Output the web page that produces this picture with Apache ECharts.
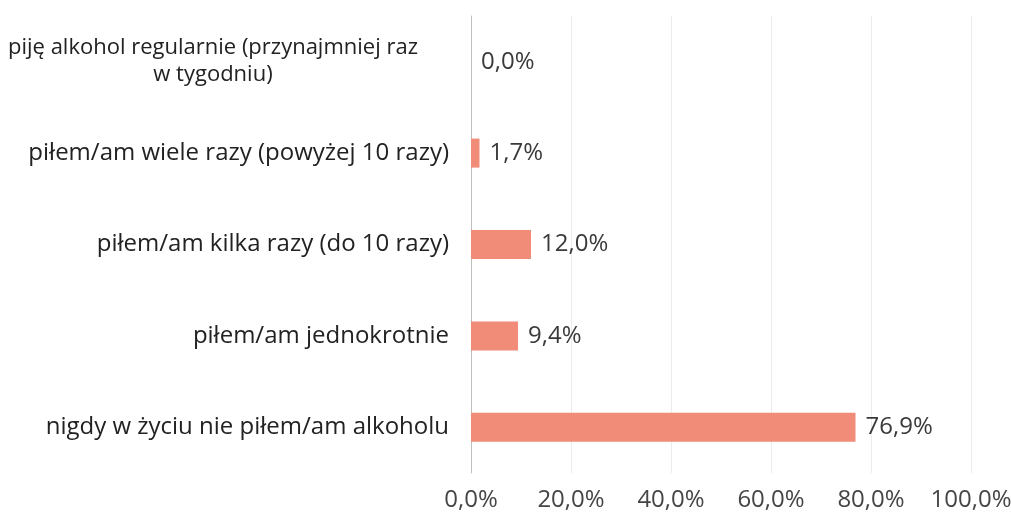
<!DOCTYPE html>
<html>
<head>
<meta charset="utf-8">
<script src="https://cdn.jsdelivr.net/npm/echarts@6/dist/echarts.min.js"></script>
<style>
  html, body { margin: 0; padding: 0; background: #fff; }
  #chart { width: 1011px; height: 520px; }
</style>
</head>
<body>
<div id="chart"></div>
<script>
// categories bottom -> top
const categories = [
  'nigdy w życiu nie piłem/am alkoholu',
  'piłem/am jednokrotnie',
  'piłem/am kilka razy (do 10 razy)',
  'piłem/am wiele razy (powyżej 10 razy)',
  'piję alkohol regularnie (przynajmniej raz\nw tygodniu)'
];
const values = [76.9, 9.4, 12.0, 1.7, 0.0];
const xTicks = [0, 20, 40, 60, 80, 100];

const fmt = v => v.toFixed(1).replace('.', ',') + '%';

const chart = echarts.init(document.getElementById('chart'));

chart.setOption({
  animation: false,
  textStyle: { fontFamily: '"Open Sans", Lato, sans-serif' },
  grid: { left: 471, right: 40, top: 16, bottom: 47, outerBoundsMode: 'none', containLabel: false },
  xAxis: {
    type: 'value',
    min: xTicks[0],
    max: xTicks[xTicks.length - 1],
    interval: 20,
    axisLine: { show: false },
    axisTick: { show: false },
    splitLine: { lineStyle: { color: '#ececec', width: 1 } },
    axisLabel: {
      margin: 15,
      fontSize: 24,
      color: '#454545',
      formatter: v => fmt(v)
    }
  },
  yAxis: {
    type: 'category',
    data: categories,
    axisLine: { lineStyle: { color: '#c0c0c0' } },
    axisTick: { show: false },
    axisLabel: {
      margin: 22,
      fontSize: 24,
      color: '#222222',
      lineHeight: 28,
      formatter: v => {
        if (v.indexOf('\n') >= 0) {
          return v.split('\n').map(s => '{c|' + s + '}').join('\n');
        }
        return v;
      },
      rich: {
        c: { width: 472, align: 'center', fontSize: 22, color: '#222222', lineHeight: 27 }
      }
    }
  },
  series: [{
    type: 'bar',
    data: values,
    barWidth: 29,
    itemStyle: { color: '#F08C78' },
    label: {
      show: true,
      position: 'right',
      distance: 10,
      fontSize: 24,
      color: '#3a3a3a',
      formatter: p => fmt(p.value)
    }
  }]
});
</script>
</body>
</html>
